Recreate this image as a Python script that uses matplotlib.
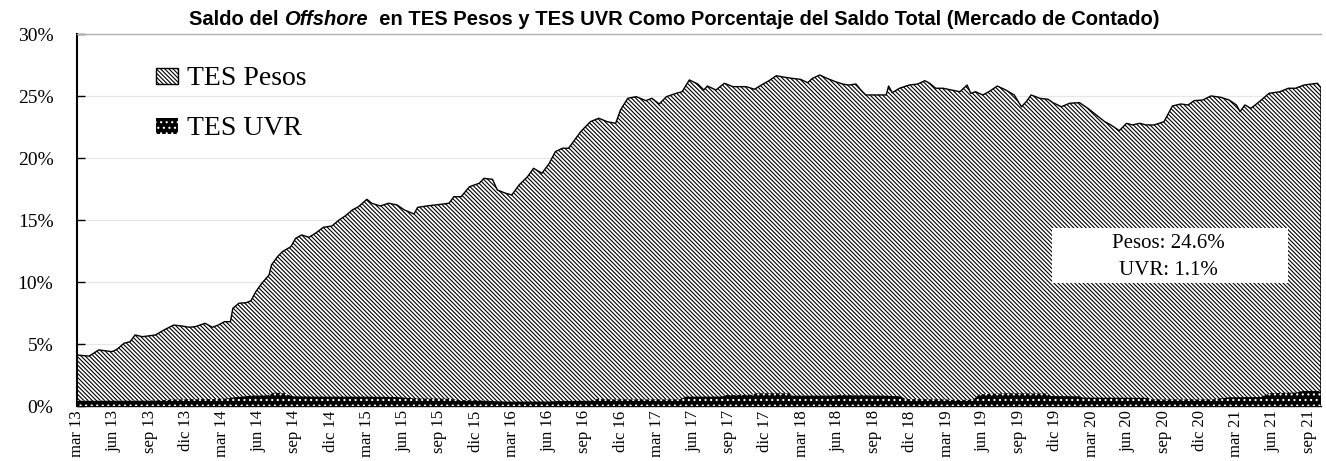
import matplotlib
matplotlib.use("Agg")
import matplotlib.pyplot as plt
from matplotlib.patches import Rectangle
from matplotlib.ticker import FuncFormatter

plt.rcParams['hatch.linewidth'] = 0.8
SERIF = 'Liberation Serif'
SANS = 'Liberation Sans'

# Months elapsed since March 2013 and top of the stacked area (TES Pesos + TES UVR), % of total holdings
pesos_last = 24.6
uvr_last = 1.1

top_month = [
    0.0, 1.0, 1.8, 2.9, 3.3, 3.9, 4.4, 4.8, 5.4, 5.9, 6.5, 7.2, 8.0, 8.7, 9.3, 9.8,
    10.6, 11.2, 11.7, 12.2, 12.7, 12.9, 13.4, 14.0, 14.4, 14.8, 15.3, 15.9, 16.1, 16.6,
    17.0, 17.7, 18.1, 18.6, 19.2, 19.8, 20.4, 21.1, 21.7, 22.2, 22.8, 23.3, 24.0, 24.4,
    25.1, 25.8, 26.5, 27.1, 27.9, 28.2, 29.1, 30.2, 30.8, 31.2, 31.8, 32.5, 33.3, 33.7,
    34.4, 34.8, 35.5, 36.0, 36.6, 37.3, 37.8, 38.5, 39.1, 39.6, 40.2, 40.7, 41.2, 41.7,
    42.5, 43.2, 43.9, 44.6, 45.0, 45.6, 46.3, 47.1, 47.6, 48.2, 48.8, 49.6, 50.1, 50.7,
    51.4, 51.9, 52.2, 52.9, 53.6, 54.3, 54.8, 55.4, 56.1, 56.8, 57.3, 57.9, 58.6, 59.2,
    59.9, 60.5, 60.9, 61.5, 62.1, 62.8, 63.4, 63.9, 64.5, 64.9, 65.3, 66.2, 67.0, 67.2,
    67.5, 68.1, 68.9, 69.6, 70.2, 70.6, 71.1, 71.7, 72.4, 73.1, 73.7, 74.0, 74.4, 75.0,
    75.5, 76.2, 76.9, 77.6, 78.2, 78.6, 79.0, 79.7, 80.4, 80.8, 81.5, 82.2, 83.0, 83.7,
    84.4, 85.1, 85.6, 86.3, 86.9, 87.4, 88.0, 88.5, 89.2, 90.0, 90.3, 90.7, 91.4, 92.0,
    92.5, 93.2, 93.9, 94.7, 95.4, 96.0, 96.3, 96.7, 97.2, 97.9, 98.7, 99.6, 100.3, 100.9,
    101.6, 102.2, 102.7, 103.0,
]
top_pct = [
    4.13, 4.04, 4.54, 4.40, 4.59, 5.08, 5.21, 5.75, 5.61, 5.67, 5.75, 6.15, 6.55, 6.47, 6.37, 6.42,
    6.69, 6.37, 6.55, 6.82, 6.82, 7.90, 8.31, 8.35, 8.51, 9.24, 9.92, 10.59, 11.40, 12.07,
    12.47, 12.87, 13.55, 13.82, 13.63, 14.00, 14.44, 14.54, 15.03, 15.35, 15.84, 16.10, 16.70, 16.38,
    16.16, 16.38, 16.24, 15.84, 15.51, 16.05, 16.18, 16.30, 16.38, 16.91, 16.91, 17.72, 17.99, 18.39,
    18.31, 17.45, 17.18, 17.05, 17.85, 18.52, 19.20, 18.80, 19.60, 20.54, 20.82, 20.82, 21.49, 22.15,
    22.96, 23.24, 22.96, 22.83, 23.91, 24.85, 24.98, 24.66, 24.85, 24.39, 24.98, 25.25, 25.38, 26.33,
    26.00, 25.52, 25.84, 25.52, 26.06, 25.79, 25.79, 25.79, 25.58, 26.00, 26.27, 26.67, 26.55, 26.46,
    26.38, 26.11, 26.46, 26.73, 26.46, 26.19, 26.00, 25.92, 26.00, 25.52, 25.12, 25.12, 25.12, 25.84,
    25.30, 25.66, 25.92, 26.00, 26.27, 26.06, 25.66, 25.66, 25.52, 25.38, 25.92, 25.25, 25.38, 25.12,
    25.38, 25.84, 25.52, 25.12, 24.17, 24.58, 25.12, 24.85, 24.77, 24.50, 24.17, 24.45, 24.50, 24.04,
    23.50, 22.96, 22.70, 22.24, 22.83, 22.70, 22.83, 22.70, 22.70, 22.96, 23.50, 24.23, 24.39, 24.31,
    24.66, 24.71, 25.04, 24.93, 24.71, 24.31, 23.77, 24.31, 24.04, 24.58, 25.25, 25.38, 25.66, 25.66,
    25.92, 26.00, 26.06,
] + [pesos_last + uvr_last]

# TES UVR holdings, % of total
uvr_month = [
    0, 6, 8.5, 11.5, 12.5, 13, 14.5, 15.8, 16.3, 17.2, 17.8, 20, 24, 26.5, 28, 30.8, 31.5, 33,
    35.5, 39, 40, 42.5, 43, 44.3, 49.9, 50.4, 53.4, 53.7, 55.9, 56.2, 59, 59.2, 62.5, 63,
    66.5, 68.2, 68.6, 72, 72.5, 74.2, 74.7, 77, 80.3, 80.6, 83, 83.3, 88.5, 89, 94, 95.4,
    98, 98.8, 101, 101.5, 102.8, 103,
]
uvr_pct = [
    0.44, 0.45, 0.55, 0.58, 0.62, 0.72, 0.85, 0.88, 1.09, 1.04, 0.80, 0.77, 0.77, 0.74, 0.62, 0.60, 0.50, 0.48,
    0.37, 0.38, 0.42, 0.44, 0.58, 0.55, 0.55, 0.77, 0.78, 0.90, 0.92, 1.04, 1.04, 0.85, 0.86, 0.90,
    0.86, 0.80, 0.58, 0.55, 0.50, 0.52, 0.96, 1.04, 1.02, 0.82, 0.80, 0.69, 0.68, 0.55, 0.55, 0.72,
    0.74, 1.05, 1.10, 1.23, 1.23,
] + [uvr_last]

tick_month = [0, 3, 6, 9, 12, 15, 18, 21, 24, 27, 30, 33, 36, 39, 42, 45, 48, 51, 54, 57,
              60, 63, 66, 69, 72, 75, 78, 81, 84, 87, 90, 93, 96, 99, 102]
tick_labels = [
    'mar 13', 'jun 13', 'sep 13', 'dic 13', 'mar 14', 'jun 14', 'sep 14', 'dic 14',
    'mar 15', 'jun 15', 'sep 15', 'dic 15', 'mar 16', 'jun 16', 'sep 16', 'dic 16',
    'mar 17', 'jun 17', 'sep 17', 'dic 17', 'mar 18', 'jun 18', 'sep 18', 'dic 18',
    'mar 19', 'jun 19', 'sep 19', 'dic 19', 'mar 20', 'jun 20', 'sep 20', 'dic 20',
    'mar 21', 'jun 21', 'sep 21',
]
y_ticks = [0, 5, 10, 15, 20, 25, 30]

fig = plt.figure(figsize=(13.26, 4.61), dpi=100)
ax = fig.add_subplot(111)
fig.subplots_adjust(left=0.0581, right=0.9962, bottom=0.1189, top=0.9252)

pesos_area = ax.fill_between(top_month, 0, top_pct, facecolor='white', edgecolor='black',
                             hatch='\\' * 8, linewidth=1.0, zorder=2, label='TES Pesos')
uvr_area = ax.fill_between(uvr_month, 0, uvr_pct, facecolor='black', edgecolor='white',
                           hatch='...', linewidth=0, zorder=3, label='TES UVR')

ax.set_xlim(0, 103)
ax.set_ylim(0, 30)
ax.set_yticks(y_ticks)
ax.yaxis.set_major_formatter(FuncFormatter(lambda v, _: f"{v:.0f}%"))
ax.set_xticks(tick_month)
ax.set_xticklabels(tick_labels, rotation=90, fontsize=12, family=SERIF)
for lab in ax.get_yticklabels():
    lab.set_fontfamily(SERIF)
    lab.set_fontsize(14)
ax.tick_params(axis='x', length=0, pad=3)
ax.tick_params(axis='y', direction='in', length=6, width=1, pad=17)

ax.set_axisbelow(True)
ax.yaxis.grid(True, color='#e6e6e6', linewidth=0.8)
ax.spines['left'].set_linewidth(1.5)
ax.spines['bottom'].set_linewidth(1.0)
ax.spines['right'].set_visible(False)
ax.spines['top'].set_color('#b0b0b0')
ax.spines['top'].set_linewidth(1.0)

ax.legend(handles=[pesos_area, uvr_area], loc='upper left', bbox_to_anchor=(0.0635, 0.914),
          frameon=False, prop={'family': SERIF, 'size': 20}, handlelength=0.8,
          handleheight=0.5, handletextpad=0.3, labelspacing=0.9, borderpad=0, borderaxespad=0)

# Latest values box
ax.add_patch(Rectangle((0.7838, 0.3315), 0.1897, 0.148, transform=ax.transAxes,
                       facecolor='white', edgecolor='none', zorder=4))
ax.text(0.877, 0.4383, f"Pesos: {pesos_last:.1f}%", transform=ax.transAxes, ha='center',
        va='center', fontsize=15, family=SERIF, zorder=5)
ax.text(0.877, 0.3645, f"UVR: {uvr_last:.1f}%", transform=ax.transAxes, ha='center',
        va='center', fontsize=15, family=SERIF, zorder=5)

# Title with italic "Offshore"
title_kw = dict(fontsize=14.5, fontweight='bold', family=SANS)
t1 = fig.text(0.1425, 0.957, "Saldo del ", ha='left', va='center', **title_kw)
t2 = ax.annotate("Offshore", xy=(1, 0), xycoords=t1, ha='left', va='bottom',
                 fontstyle='italic', **title_kw)
ax.annotate("  en TES Pesos y TES UVR Como Porcentaje del Saldo Total (Mercado de Contado)",
            xy=(1, 0), xycoords=t2, ha='left', va='bottom', **title_kw)

fig.savefig('out.png', dpi=100)
